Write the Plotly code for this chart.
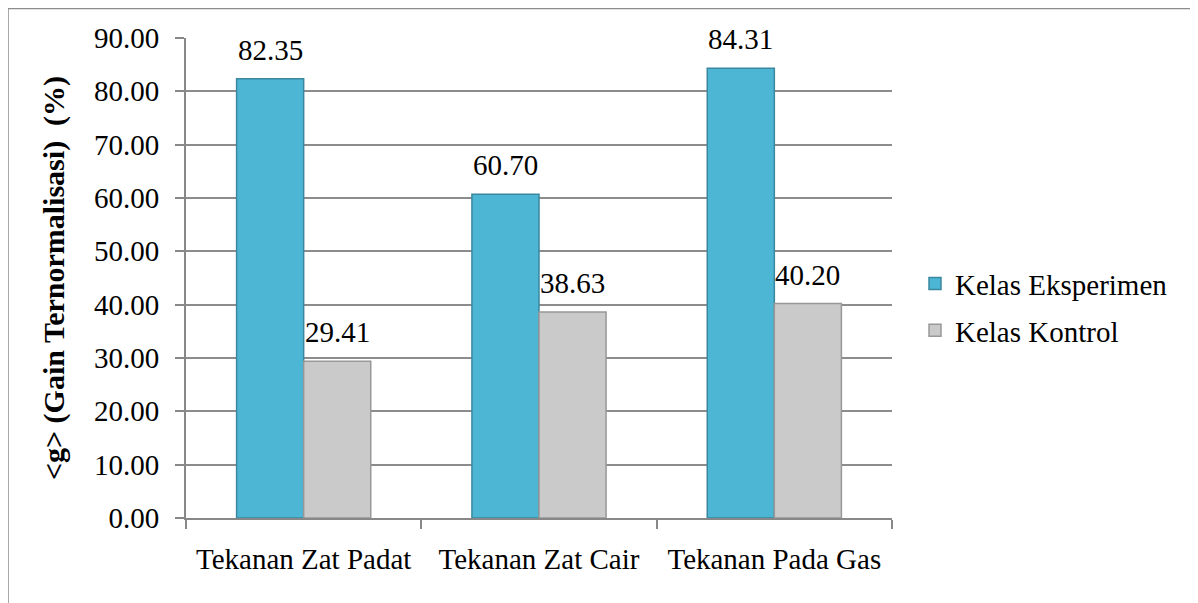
import plotly.graph_objects as go

categories = ["Tekanan Zat Padat", "Tekanan Zat Cair", "Tekanan Pada Gas"]
eksperimen = [82.35, 60.70, 84.31]
kontrol = [29.41, 38.63, 40.20]
series_names = ["Kelas Eksperimen", "Kelas Kontrol"]
y_ticks = [0, 10, 20, 30, 40, 50, 60, 70, 80, 90]
y_title = "<g> (Gain Ternormalisasi)  (%)"

FONT = "Liberation Serif"
OFF = 8  # page body margin
W, H = 1198 - OFF, 603 - OFF
L, R, T, B = 186 - OFF, 892 - OFF, 37.5 - OFF, 518 - OFF
BARGAP = 0.43
bar_px = (R - L) / len(categories) * (1 - BARGAP) / 2

fig = go.Figure()
fig.add_trace(go.Bar(
    x=categories, y=eksperimen, name=series_names[0],
    marker=dict(color="#4db6d4", line=dict(color="#3a879f", width=1.5)),
    legendgroup="a",
))
fig.add_trace(go.Bar(
    x=categories, y=kontrol, name=series_names[1],
    marker=dict(color="#cacaca", line=dict(color="#989898", width=1.5)),
    legendgroup="b",
))

annotations = []
for vals, sgn in ((eksperimen, -1), (kontrol, 1)):
    for c, v in zip(categories, vals):
        annotations.append(dict(
            x=c, y=v, xref="x", yref="y", text=f"{v:.2f}", showarrow=False,
            xanchor="center", yanchor="bottom", xshift=sgn * bar_px / 2, yshift=11,
            font=dict(family=FONT, size=29, color="black"),
        ))

def px_x(p):
    return (p - OFF - L) / (R - L)

def px_y(p):
    return (B - (p - OFF)) / (B - T)

fig.update_layout(
    width=W, height=H,
    margin=dict(l=L, r=W - R, t=T, b=H - B, autoexpand=False),
    paper_bgcolor="white", plot_bgcolor="white",
    font=dict(family=FONT, size=29, color="black"),
    barmode="group", bargap=BARGAP, bargroupgap=0,
    showlegend=True,
    legend=dict(
        x=px_x(915), y=px_y(258), xanchor="left", yanchor="top",
        font=dict(family=FONT, size=29, color="black"),
        tracegroupgap=6, traceorder="grouped",
        itemwidth=30, bgcolor="rgba(0,0,0,0)",
    ),
    xaxis=dict(
        showline=True, linecolor="#888888", linewidth=2,
        ticks="outside", ticklen=9, tickcolor="#888888", tickwidth=2,
        tickson="boundaries", showgrid=False,
        ticklabelstandoff=14,
        tickfont=dict(family=FONT, size=29, color="black"),
    ),
    yaxis=dict(
        range=[0, 90], tickvals=y_ticks,
        ticktext=[f"{v:.2f}" for v in y_ticks],
        showline=True, linecolor="#888888", linewidth=2,
        ticks="outside", ticklen=9, tickcolor="#888888", tickwidth=2,
        showgrid=True, gridcolor="#8c8c8c", gridwidth=1.5,
        zeroline=False,
        ticklabelstandoff=10,
        tickfont=dict(family=FONT, size=29, color="black"),
        title=dict(text=y_title.replace("<", "&lt;").replace(">", "&gt;"),
                   font=dict(family=FONT, size=30, color="black", weight="bold"),
                   standoff=20),
    ),
    annotations=annotations,
    shapes=[dict(type="rect", xref="paper", yref="paper",
                 x0=px_x(7.5), x1=px_x(1300), y0=px_y(700), y1=px_y(7.5),
                 line=dict(color="#8c8c8c", width=2.5), fillcolor="rgba(0,0,0,0)",
                 layer="below")],
)

fig.write_html("out.html")
